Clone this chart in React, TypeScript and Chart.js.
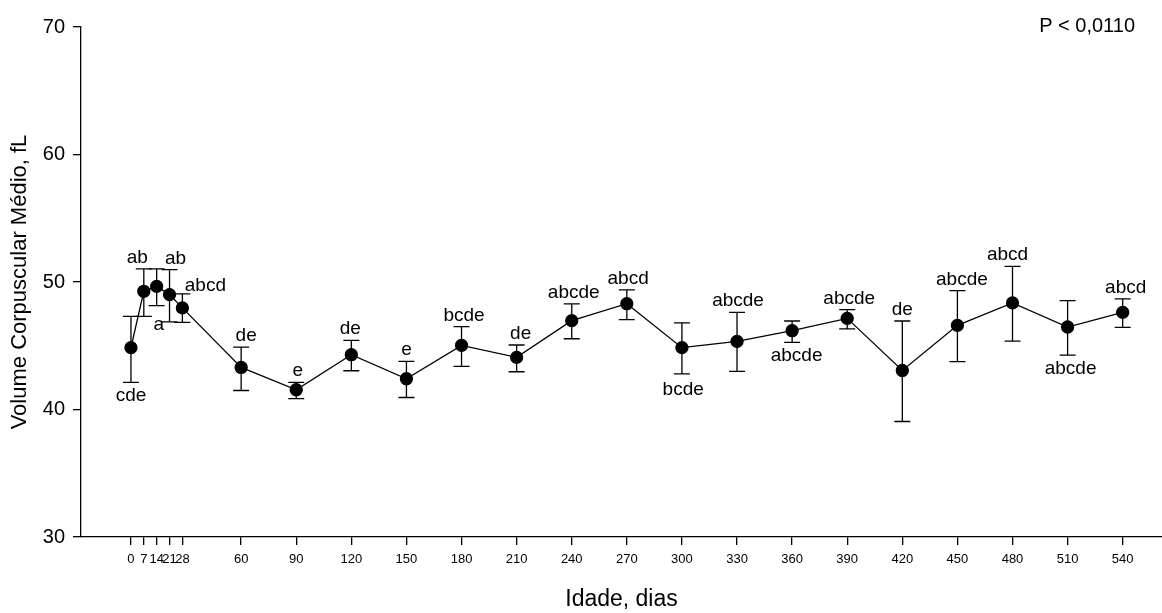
import React, { useEffect, useRef } from 'react';
import { Chart, registerables } from 'chart.js';

Chart.register(...registerables);

// ---- data ----
const days = [0, 7, 14, 21, 28, 60, 90, 120, 150, 180, 210, 240, 270, 300, 330, 360, 390, 420, 450, 480, 510, 540];
const meanVcm = [44.85, 49.27, 49.66, 49.01, 47.97, 43.3, 41.55, 44.3, 42.41, 45.03, 44.09, 46.97, 48.3, 44.85, 45.34, 46.18, 47.15, 43.06, 46.6, 48.36, 46.47, 47.62];
const upperVcm = [47.31, 51.03, 51.03, 50.97, 49.07, 44.9, 42.12, 45.42, 43.77, 46.5, 45.06, 48.28, 49.38, 46.79, 47.62, 46.94, 47.83, 46.94, 49.32, 51.23, 48.54, 48.67];
const lowerVcm = [42.12, 47.31, 48.15, 46.87, 46.83, 41.49, 40.86, 43.04, 40.94, 43.38, 42.96, 45.55, 47.05, 42.8, 42.99, 45.26, 46.32, 39.06, 43.75, 45.37, 44.27, 46.44];
const letters = ['cde', 'ab', 'a', 'ab', 'abcd', 'de', 'e', 'de', 'e', 'bcde', 'de', 'abcde', 'abcd', 'bcde', 'abcde', 'abcde', 'abcde', 'de', 'abcde', 'abcd', 'abcde', 'abcd'];
const xTicks = [0, 7, 14, 21, 28, 60, 90, 120, 150, 180, 210, 240, 270, 300, 330, 360, 390, 420, 450, 480, 510, 540];
const yTicks = [30, 40, 50, 60, 70];
const pText = 'P < 0,0110';
const xTitle = 'Idade, dias';
const yTitle = 'Volume Corpuscular Médio, fL';

// ---- label placement (style config) ----
const LABEL_SIDE = ['below', 'above', 'below', 'above', 'above', 'above', 'above', 'above', 'above', 'above', 'above', 'above', 'above', 'below', 'above', 'below', 'above', 'above', 'above', 'above', 'below', 'above'];
const LABEL_DX = [0, -6.5, 2, 6, 23, 5, 1.5, -1, 0, 2.5, 4, 2, 1.3, 1.3, 1, 4.5, 2, 0, 4.5, -5, 3, 3];
const LABEL_DY = [0, 0, 5.5, 0, 3.4, 0, 0, 0, 0, 0, 0, 0, 0, 2, 0, 0, 0, 0, 0, 0, 0, 0];

const FONT = '"Liberation Sans", Arial, Helvetica, sans-serif';

const annotatePlugin = {
  id: 'annotate',
  afterDatasetsDraw(chart: any) {
    const { ctx, scales } = chart;
    const x = scales.x;
    const y = scales.y;
    ctx.save();
    ctx.strokeStyle = '#000';
    ctx.lineWidth = 1.3;
    days.forEach((d, i) => {
      const px = x.getPixelForValue(d);
      const top = y.getPixelForValue(upperVcm[i]);
      const bot = y.getPixelForValue(lowerVcm[i]);
      ctx.beginPath();
      ctx.moveTo(px, top);
      ctx.lineTo(px, bot);
      ctx.moveTo(px - 8, top);
      ctx.lineTo(px + 8, top);
      ctx.moveTo(px - 8, bot);
      ctx.lineTo(px + 8, bot);
      ctx.stroke();
    });
    ctx.fillStyle = '#000';
    ctx.font = `19px ${FONT}`;
    ctx.textAlign = 'center';
    ctx.textBaseline = 'alphabetic';
    days.forEach((d, i) => {
      const px = x.getPixelForValue(d) + LABEL_DX[i];
      let py;
      if (LABEL_SIDE[i] === 'above') {
        py = y.getPixelForValue(upperVcm[i]) - 6 + LABEL_DY[i];
      } else {
        py = y.getPixelForValue(lowerVcm[i]) + 19 + LABEL_DY[i];
      }
      ctx.fillText(letters[i], px, py);
    });
    ctx.font = `20px ${FONT}`;
    ctx.textAlign = 'right';
    ctx.fillText(pText, 1135, 32);
    ctx.restore();
  },
};

export default function App() {
  const ref = useRef<HTMLCanvasElement | null>(null);

  useEffect(() => {
    document.body.style.margin = '0';
    const canvas = ref.current;
    if (!canvas) return;
    const chart = new Chart(canvas, {
      type: 'line',
      data: {
        datasets: [
          {
            label: 'VCM',
            data: days.map((d, i) => ({ x: d, y: meanVcm[i] })),
            borderColor: '#000',
            backgroundColor: '#000',
            borderWidth: 1.3,
            pointRadius: 6,
            pointHoverRadius: 6,
            pointBackgroundColor: '#000',
            pointBorderColor: '#000',
            tension: 0,
            fill: false,
          },
        ],
      },
      options: {
        responsive: false,
        animation: false,
        events: [],
        layout: { autoPadding: false, padding: { top: 27, right: 0, left: 0, bottom: 0 } },
        plugins: {
          legend: { display: false },
          tooltip: { enabled: false },
          title: { display: false },
        },
        scales: {
          x: {
            type: 'linear',
            min: -27.2,
            max: 561.4,
            afterBuildTicks: (scale: any) => {
              scale.ticks = xTicks.map((v) => ({ value: v }));
            },
            afterFit: (scale: any) => {
              scale.height = 76;
            },
            ticks: {
              autoSkip: false,
              maxRotation: 0,
              minRotation: 0,
              padding: 7,
              color: '#000',
              font: { family: FONT, size: 13 },
              callback: (v: any) => String(v),
            },
            grid: {
              drawOnChartArea: false,
              drawTicks: true,
              tickLength: 8,
              color: '#000',
              lineWidth: 1.3,
            },
            border: { display: true, color: '#000', width: 1.3 },
            title: {
              display: true,
              text: xTitle,
              color: '#000',
              font: { family: FONT, size: 23 },
              padding: { top: 0, bottom: 0 },
            },
          },
          y: {
            type: 'linear',
            min: 30,
            max: 70,
            afterBuildTicks: (scale: any) => {
              scale.ticks = yTicks.map((v) => ({ value: v }));
            },
            afterFit: (scale: any) => {
              scale.width = 81;
            },
            ticks: {
              padding: 8,
              color: '#000',
              font: { family: FONT, size: 20 },
              callback: (v: any) => String(v),
            },
            grid: {
              drawOnChartArea: false,
              drawTicks: true,
              tickLength: 8,
              color: '#000',
              lineWidth: 1.3,
            },
            border: { display: true, color: '#000', width: 1.3 },
            title: {
              display: true,
              text: yTitle,
              color: '#000',
              font: { family: FONT, size: 22 },
              padding: { top: 7, bottom: 0 },
            },
          },
        },
      },
      plugins: [annotatePlugin],
    });
    return () => chart.destroy();
  }, []);

  return (
    <div style={{ position: 'absolute', left: 0, top: 0, width: 1162, height: 613, background: '#fff' }}>
      <canvas ref={ref} width={1162} height={613} style={{ display: 'block', width: 1162, height: 613 }} />
    </div>
  );
}
